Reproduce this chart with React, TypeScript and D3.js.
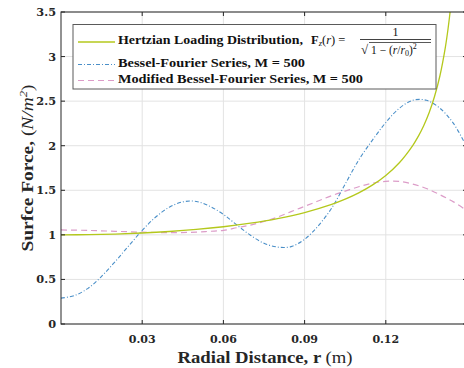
import React from "react";
import * as d3 from "d3";

const xTicks = [0.03, 0.06, 0.09, 0.12];
const yTicks = [0, 0.5, 1, 1.5, 2, 2.5, 3, 3.5];

const hertzR = [0, 0.01, 0.02, 0.03, 0.04, 0.05, 0.06, 0.07, 0.08, 0.09, 0.1, 0.105, 0.11, 0.115, 0.12, 0.125, 0.13, 0.132, 0.134, 0.136, 0.138, 0.14, 0.142, 0.143, 0.144, 0.145, 0.146];
const hertzF = [1, 1.0022, 1.009, 1.0206, 1.0376, 1.0607, 1.0911, 1.1307, 1.1822, 1.25, 1.3416, 1.4003, 1.4709, 1.5575, 1.6667, 1.8091, 2.0045, 2.105, 2.225, 2.37, 2.552, 2.785, 3.104, 3.312, 3.571, 3.905, 4.36];

const besselR = [0, 0.005, 0.01, 0.015, 0.02, 0.025, 0.03, 0.035, 0.04, 0.045, 0.05, 0.055, 0.06, 0.065, 0.07, 0.075, 0.08, 0.085, 0.09, 0.095, 0.1, 0.105, 0.11, 0.115, 0.12, 0.125, 0.13, 0.135, 0.14, 0.145, 0.15];
const besselF = [0.29, 0.32, 0.4, 0.535, 0.7, 0.876, 1.05, 1.2, 1.31, 1.37, 1.375, 1.32, 1.23, 1.11, 0.995, 0.906, 0.863, 0.868, 0.95, 1.1, 1.3, 1.57, 1.84, 2.06, 2.26, 2.42, 2.51, 2.51, 2.42, 2.25, 1.98];

const modR = [0, 0.01, 0.02, 0.03, 0.04, 0.05, 0.055, 0.06, 0.065, 0.07, 0.075, 0.08, 0.085, 0.09, 0.095, 0.1, 0.105, 0.11, 0.115, 0.12, 0.125, 0.13, 0.135, 0.14, 0.145, 0.15];
const modF = [1.055, 1.05, 1.04, 1.03, 1.025, 1.03, 1.04, 1.05, 1.08, 1.11, 1.15, 1.2, 1.26, 1.32, 1.38, 1.44, 1.49, 1.54, 1.58, 1.6, 1.6, 1.57, 1.52, 1.45, 1.37, 1.27];

const W = 464;
const H = 368;
const left = 61;
const right = 467;
const top = 12;
const bottom = 324;

export default function App() {
  const x = d3.scaleLinear().domain([0, 0.15]).range([left, right]);
  const y = d3.scaleLinear().domain([0, 3.5]).range([bottom, top]);
  const line = d3
    .line<[number, number]>()
    .x((d) => x(d[0]))
    .y((d) => y(d[1]))
    .curve(d3.curveCatmullRom);
  const zip = (a: number[], b: number[]) => a.map((v, i) => [v, b[i]] as [number, number]);

  const green = "#b4c81c";
  const blue = "#4a8fc8";
  const pink = "#dc9cc8";
  const axisColor = "#262626";
  const font = "'Liberation Serif', 'Times New Roman', serif";
  const tickFont = "'DejaVu Serif', serif";

  return (
    <svg width={W} height={H} style={{ position: "absolute", left: 0, top: 0, background: "#fff" }} fontFamily={font}>
      <defs>
        <clipPath id="plotClip">
          <rect x={left} y={top} width={right - left} height={bottom - top} />
        </clipPath>
      </defs>
      <rect x={0} y={0} width={W} height={H} fill="#fff" />
      {/* grid */}
      {xTicks.map((t) => (
        <line key={"gx" + t} x1={x(t)} x2={x(t)} y1={top} y2={bottom} stroke="#e3e3e3" strokeWidth={1} />
      ))}
      {yTicks.map((t) => (
        <line key={"gy" + t} x1={left} x2={right} y1={y(t)} y2={y(t)} stroke="#e3e3e3" strokeWidth={1} />
      ))}
      {/* curves */}
      <g clipPath="url(#plotClip)" fill="none">
        <path d={line(zip(modR, modF)) || ""} stroke={pink} strokeWidth={1.2} strokeDasharray="6,4" />
        <path d={line(zip(besselR, besselF)) || ""} stroke={blue} strokeWidth={1.1} strokeDasharray="4,2,1,2" />
        <path d={line(zip(hertzR, hertzF)) || ""} stroke={green} strokeWidth={1.3} />
      </g>
      {/* axes box */}
      <rect x={left} y={top} width={right - left} height={bottom - top} fill="none" stroke={axisColor} strokeWidth={1} />
      {xTicks.map((t) => (
        <g key={"tx" + t}>
          <line x1={x(t)} x2={x(t)} y1={bottom} y2={bottom - 4} stroke={axisColor} />
          <line x1={x(t)} x2={x(t)} y1={top} y2={top + 4} stroke={axisColor} />
          <text x={x(t)} y={bottom + 19} textAnchor="middle" fontSize={11} fontWeight="bold" fontFamily={tickFont} fill="#262626">
            {t.toFixed(2)}
          </text>
        </g>
      ))}
      {yTicks.map((t) => (
        <g key={"ty" + t}>
          <line x1={left} x2={left + 4} y1={y(t)} y2={y(t)} stroke={axisColor} />
          <line x1={right} x2={right - 4} y1={y(t)} y2={y(t)} stroke={axisColor} />
          <text x={left - 5} y={y(t) + 4} textAnchor="end" fontSize={11.3} fontWeight="bold" fontFamily={tickFont} fill="#262626">
            {String(t)}
          </text>
        </g>
      ))}
      {/* axis labels */}
      <text x={(left + right) / 2 + 1} y={363} textAnchor="middle" fontSize={16} fill="#262626" textLength={175} lengthAdjust="spacingAndGlyphs">
        <tspan fontWeight="bold">Radial Distance, r </tspan>
        <tspan>(m)</tspan>
      </text>
      <text transform="translate(33,168) rotate(-90)" textAnchor="middle" fontSize={16} fill="#262626" textLength={167} lengthAdjust="spacingAndGlyphs">
        <tspan fontWeight="bold">Surfce Force, </tspan>
        <tspan>(</tspan>
        <tspan fontStyle="italic">N/m</tspan>
        <tspan fontSize={10.5} dy={-6} fontStyle="italic">2</tspan>
        <tspan dy={6}>)</tspan>
      </text>
      {/* legend */}
      <rect x={73} y={24.5} width={363} height={64.5} fill="#fff" stroke="#5a5a5a" strokeWidth={1} />
      <line x1={78} x2={115} y1={42} y2={42} stroke={green} strokeWidth={1.3} />
      <line x1={78} x2={115} y1={64.5} y2={64.5} stroke={blue} strokeWidth={1.1} strokeDasharray="4,2,1,2" />
      <line x1={78} x2={115} y1={80.5} y2={80.5} stroke={pink} strokeWidth={1.2} strokeDasharray="6,4" />
      <text x={118} y={43.5} fontSize={12.5} fontWeight="bold" fill="#111" textLength={185} lengthAdjust="spacingAndGlyphs">
        Hertzian Loading Distribution,
      </text>
      <text x={311} y={43.5} fontSize={12.5} fill="#111">
        <tspan fontWeight="bold">F</tspan>
        <tspan fontStyle="italic" fontSize={8.5} dy={2}>z</tspan>
        <tspan dy={-2}>(</tspan>
        <tspan fontStyle="italic">r</tspan>
        <tspan>) =</tspan>
      </text>
      <text x={395.5} y={35.5} fontSize={12} textAnchor="middle" fill="#111">1</text>
      <line x1={360} x2={431} y1={39.5} y2={39.5} stroke="#111" strokeWidth={0.8} />
      <text x={361} y={54} fontSize={13} fill="#111">√</text>
      <line x1={369} x2={431} y1={42.5} y2={42.5} stroke="#111" strokeWidth={0.7} />
      <text x={371} y={53.5} fontSize={11.5} fill="#111">
        <tspan>1 − (</tspan>
        <tspan fontStyle="italic">r</tspan>
        <tspan>/</tspan>
        <tspan fontStyle="italic">r</tspan>
        <tspan fontSize={8} dy={2}>0</tspan>
        <tspan dy={-2}>)</tspan>
        <tspan fontSize={8} dy={-5}>2</tspan>
      </text>
      <text x={118} y={67} fontSize={12.5} fontWeight="bold" fill="#111" textLength={187} lengthAdjust="spacingAndGlyphs">
        Bessel-Fourier Series, M = 500
      </text>
      <text x={118} y={83} fontSize={12.5} fontWeight="bold" fill="#111" textLength={245} lengthAdjust="spacingAndGlyphs">
        Modified Bessel-Fourier Series, M = 500
      </text>
    </svg>
  );
}
